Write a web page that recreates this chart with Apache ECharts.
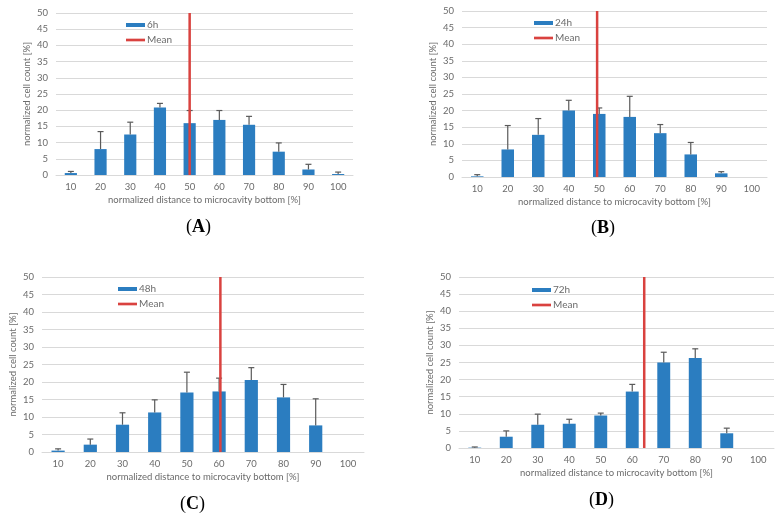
<!DOCTYPE html>
<html>
<head>
<meta charset="utf-8">
<script src="https://cdn.jsdelivr.net/npm/echarts@6/dist/echarts.min.js"></script>
<style>
html,body{margin:0;padding:0;background:#fff;}
#chart{width:778px;height:522px;}
</style>
</head>
<body>
<div id="chart"></div>
<script>
// ---- data ----
const categories = ['10','20','30','40','50','60','70','80','90','100'];
const yMin = 0, yMax = 50, yInterval = 5;

const labelsSeries = ['6h','24h','48h','72h'];
const panelLetters = ['A','B','C','D'];

const values6h  = [0.6, 8.0, 12.5, 20.8, 16.0, 17.0, 15.5, 7.2, 1.7, 0.3];
const err6h     = [0.5, 5.4, 3.8, 1.3, 3.9, 2.9, 2.6, 2.7, 1.6, 0.6];
const mean6h    = 50.0;

const values24h = [0.2, 8.3, 12.7, 20.0, 19.0, 18.1, 13.2, 6.8, 1.1, 0];
const err24h    = [0.5, 7.2, 4.9, 3.1, 1.8, 6.2, 2.6, 3.6, 0.5, 0];
const mean24h   = 49.3;

const values48h = [0.4, 2.1, 7.8, 11.3, 17.0, 17.3, 20.6, 15.6, 7.6, 0];
const err48h    = [0.5, 1.6, 3.4, 3.6, 5.8, 3.8, 3.5, 3.7, 7.6, 0];
const mean48h   = 60.4;

const values72h = [0.1, 3.3, 6.8, 7.1, 9.5, 16.5, 25.0, 26.3, 4.3, 0];
const err72h    = [0.2, 1.7, 3.1, 1.3, 0.7, 2.1, 3.0, 2.7, 1.5, 0];
const mean72h   = 63.8;

const xAxisTitle = 'normalized distance to microcavity bottom [%]';
const yAxisTitle = 'normalized cell count [%]';
const meanLabel = 'Mean';

// ---- layout / style ----
const layouts = [
  {grid:{left:56, top:13, width:297, height:162}, legend:{left:121, top:15}, letter:[200,228]},
  {grid:{left:462, top:11, width:305, height:166}, legend:{left:529, top:13}, letter:[605,229]},
  {grid:{left:42, top:277, width:322, height:175}, legend:{left:113, top:279}, letter:[194,505]},
  {grid:{left:459, top:277, width:315, height:171}, legend:{left:527, top:280}, letter:[603,501]}
];
const panelsData = [
  {name:labelsSeries[0], values:values6h,  err:err6h,  mean:mean6h},
  {name:labelsSeries[1], values:values24h, err:err24h, mean:mean24h},
  {name:labelsSeries[2], values:values48h, err:err48h, mean:mean48h},
  {name:labelsSeries[3], values:values72h, err:err72h, mean:mean72h}
];

const FONT = 'Lato, "Open Sans", sans-serif';
const BAR = '#2b7dc0';
const RED = '#d9423f';
const GRID = '#d9d9d9';
const TXT = '#6b6b6b';
const FS = 9.5;

const chart = echarts.init(document.getElementById('chart'));
const grids = [], xAxes = [], yAxes = [], series = [], legends = [], graphics = [];

panelsData.forEach((p, i) => {
  const L = layouts[i];
  grids.push(Object.assign({containLabel:false}, L.grid));
  xAxes.push({
    type:'category', gridIndex:i, data:categories,
    axisLine:{show:true, lineStyle:{color:GRID, width:1}},
    axisTick:{show:false},
    axisLabel:{color:TXT, fontSize:FS, fontFamily:FONT, margin:7},
    name:xAxisTitle, nameLocation:'middle', nameGap:20,
    nameTextStyle:{color:TXT, fontSize:FS, fontFamily:FONT}
  });
  xAxes.push({
    type:'value', gridIndex:i, min:5, max:105, show:false,
    splitLine:{show:false}
  });
  yAxes.push({
    type:'value', gridIndex:i, min:yMin, max:yMax, interval:yInterval,
    axisLine:{show:false}, axisTick:{show:false},
    splitLine:{show:true, lineStyle:{color:GRID, width:1}},
    axisLabel:{color:TXT, fontSize:FS, fontFamily:FONT, margin:8},
    name:yAxisTitle, nameLocation:'middle', nameGap:24,
    nameTextStyle:{color:TXT, fontSize:FS, fontFamily:FONT}
  });
  series.push({
    type:'bar', name:p.name, xAxisIndex:2*i, yAxisIndex:i,
    data:p.values, barWidth:'41%',
    itemStyle:{color:BAR}, silent:true
  });
  series.push({
    type:'custom', name:'err'+i, xAxisIndex:2*i, yAxisIndex:i,
    data:p.values.map((v, k) => [k, v, v + p.err[k]]),
    encode:{x:0, y:[1,2]},
    renderItem:function(params, api){
      const k = api.value(0);
      if (api.value(2) - api.value(1) <= 0) return null;
      const lo = api.coord([k, api.value(1)]);
      const hi = api.coord([k, api.value(2)]);
      const cw = 3;
      return {
        type:'group',
        children:[
          {type:'line', shape:{x1:hi[0], y1:lo[1], x2:hi[0], y2:hi[1]}, style:{stroke:'#5a5a5a', lineWidth:1.2}},
          {type:'line', shape:{x1:hi[0]-cw, y1:hi[1], x2:hi[0]+cw, y2:hi[1]}, style:{stroke:'#5a5a5a', lineWidth:1.2}}
        ]
      };
    },
    silent:true, z:3
  });
  series.push({
    type:'line', name:meanLabel, xAxisIndex:2*i+1, yAxisIndex:i,
    data:[[p.mean, yMin],[p.mean, yMax]],
    symbol:'none', lineStyle:{color:RED, width:2.5}, itemStyle:{color:RED},
    silent:true, z:4
  });
  legends.push({
    orient:'vertical', left:L.legend.left, top:L.legend.top,
    itemWidth:19, itemHeight:4, itemGap:5,
    textStyle:{color:TXT, fontSize:10, fontFamily:FONT, padding:[0,0,0,-3]},
    selectedMode:false,
    data:[
      {name:p.name, icon:'rect'},
      {name:meanLabel, icon:'path://M0,0h0M0,0.6h20v2.8H0zM20,4h0', itemStyle:{color:RED}}
    ]
  });
  graphics.push({
    type:'text', left:L.letter[0]-14, top:L.letter[1]-10,
    style:{
      text:'{n|(}{b|' + panelLetters[i] + '}{n|)}',
      rich:{
        n:{fontFamily:'"Liberation Serif", "DejaVu Serif", serif', fontSize:18, fill:'#000', fontWeight:'normal'},
        b:{fontFamily:'"Liberation Serif", "DejaVu Serif", serif', fontSize:18, fill:'#000', fontWeight:'bold'}
      }
    }
  });
});

chart.setOption({
  animation:false,
  backgroundColor:'#fff',
  grid:grids, xAxis:xAxes, yAxis:yAxes, series:series, legend:legends,
  graphic:graphics
});
</script>
</body>
</html>
